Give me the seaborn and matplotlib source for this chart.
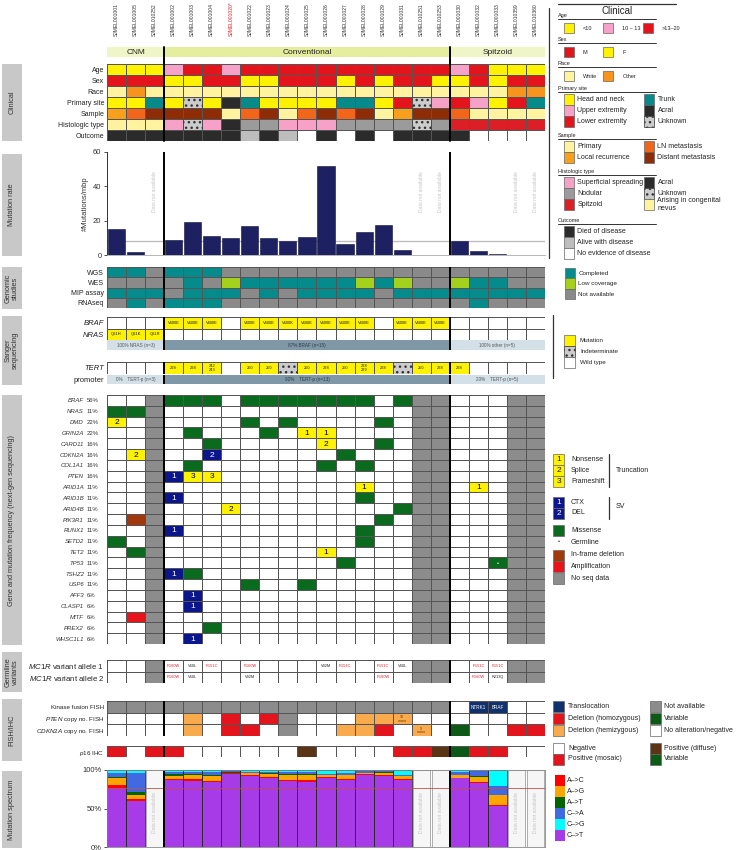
import numpy as np
import pandas as pd
import matplotlib
matplotlib.use('Agg')
import matplotlib.pyplot as plt
import matplotlib.transforms as mtrans
from matplotlib.colors import ListedColormap
from matplotlib.patches import Rectangle
import seaborn as sns

# ---------------- data ----------------
samples = ['SJMEL001001', 'SJMEL001005', 'SJMEL010252', 'SJMEL001002', 'SJMEL001003',
           'SJMEL001004', 'SJMEL001020*', 'SJMEL001022', 'SJMEL001023', 'SJMEL001024',
           'SJMEL001025', 'SJMEL001026', 'SJMEL001027', 'SJMEL001028', 'SJMEL001029',
           'SJMEL001031', 'SJMEL010251', 'SJMEL010253', 'SJMEL001030', 'SJMEL001032',
           'SJMEL001033', 'SJMEL010359', 'SJMEL010360']
groups = ['CNM'] * 3 + ['Conventional'] * 15 + ['Spitzoid'] * 5

# clinical
age = ['Y', 'Y', 'Y', 'P', 'R', 'R', 'P', 'R', 'R', 'R', 'R', 'R', 'R', 'R', 'R', 'R', 'R', 'R',
       'P', 'R', 'Y', 'Y', 'Y']
sex = ['M', 'M', 'M', 'F', 'F', 'M', 'M', 'F', 'F', 'M', 'M', 'M', 'F', 'M', 'F', 'M', 'M', 'F',
       'F', 'M', 'F', 'M', 'M']
race = ['W', 'O', 'W', 'W', 'W', 'W', 'W', 'W', 'W', 'W', 'W', 'W', 'W', 'W', 'W', 'W', 'W', 'W',
        'W', 'W', 'W', 'O', 'O']
site = ['HN', 'HN', 'TR', 'HN', 'UN', 'HN', 'AC', 'TR', 'HN', 'HN', 'HN', 'HN', 'TR', 'TR', 'HN',
        'LE', 'UN', 'UE', 'LE', 'UE', 'HN', 'LE', 'TR']
sample_type = ['LR', 'LN', 'DM', 'DM', 'DM', 'DM', 'PR', 'LN', 'DM', 'PR', 'LN', 'DM', 'LN', 'DM',
               'PR', 'LR', 'DM', 'DM', 'LN', 'PR', 'PR', 'PR', 'PR']
histology = ['CN', 'CN', 'CN', 'SS', 'UN', 'SS', 'AC', 'ND', 'ND', 'SS', 'SS', 'SS', 'ND', 'ND',
             'ND', 'ND', 'UN', 'ND', 'SP', 'SP', 'SP', 'SP', 'SP']
outcome = ['D', 'D', 'D', 'D', 'D', 'D', 'D', 'A', 'D', 'A', 'N', 'D', 'N', 'D', 'N', 'D', 'D', 'D',
           'D', 'N', 'N', 'N', 'N']
clin_labels = ['Age', 'Sex', 'Race', 'Primary site', 'Sample', 'Histologic type', 'Outcome']

# mutation rate (#mutations / mbp), nan = data not available
rate = [15, 2, np.nan, 9, 19.5, 11, 10, 17, 10, 8, 10.5, 52, 6.5, 13.5, 17.5, 3, np.nan, np.nan,
        8, 2.5, 0.8, np.nan, np.nan]
rate_median = 8.3

# genomic studies: T completed, L low coverage, G not available
wgs = list('TTGTTTGGGGGGGGGGGGGGGGG')
wes = list('GGGGTGLTTTTTTLTLGGLTTGG')
mip = list('TTTGTTTGTGTTTTGTTTTTTTT')
rnaseq = list('GTGTTTGGGGGGGGGGGGGTGGG')
genomic_labels = ['WGS', 'WES', 'MIP assay', 'RNAseq']

# sanger
braf_sanger = ['', '', '', 'V600E', 'V600E', 'V600E', '', 'V600E', 'V600E', 'V600K', 'V600E',
               'V600E', 'V600E', 'V600E', '', 'V600E', 'V600E', 'V600E', '', '', '', '', '']
nras_sanger = ['Q61H', 'Q61K', 'Q61R'] + [''] * 20
sanger_summary = ['100% NRAS (n=3)', '87% BRAF (n=15)', '100% other (n=5)']
tert = ['', '', '', '228', '228', '242\n243', '', '250', '250', '?', '250', '228', '250',
        '228\n229', '228', '?', '250', '228', '228', '', '', '', '']
tert_summary = ['0%    TERT-p (n=3)', '92%    TERT-p (n=13)', '20%    TERT-p (n=5)']

# next-gen sequencing: m missense, 1/2/3 truncation, a/b SV (CTX/DEL), d in-frame del,
# A amplification, g germline; columns without seq data are listed in noseq
noseq = [2, 16, 17, 21, 22]
genes = ['BRAF', 'NRAS', 'DMD', 'GRIN2A', 'CARD11', 'CDKN2A', 'COL1A1', 'PTEN', 'ARID1A',
         'ARID1B', 'ARID4B', 'PIK3R1', 'RUNX1', 'SETD2', 'TET2', 'TP53', 'TSHZ2', 'USP6',
         'AFF3', 'CLASP1', 'MITF', 'PREX2', 'WHSC1L1']
gene_pct = ['56%', '11%', '22%', '22%', '16%', '16%', '16%', '16%', '11%', '11%', '11%', '11%',
            '11%', '11%', '11%', '11%', '11%', '11%', '6%', '6%', '6%', '6%', '6%']
gene_alts = {
    'BRAF': {3: 'm', 4: 'm', 5: 'm', 7: 'm', 8: 'm', 9: 'm', 10: 'm', 11: 'm', 12: 'm', 13: 'm', 15: 'm'},
    'NRAS': {0: 'm', 1: 'm'},
    'DMD': {0: '2', 7: 'm', 9: 'm', 14: 'm'},
    'GRIN2A': {4: 'm', 8: 'm', 10: '1', 11: '1'},
    'CARD11': {5: 'm', 11: '2', 14: 'm'},
    'CDKN2A': {1: '2', 5: 'b', 12: 'm'},
    'COL1A1': {4: 'm', 11: 'm', 13: 'm'},
    'PTEN': {3: 'a', 4: '3', 5: '3'},
    'ARID1A': {13: '1', 19: '1'},
    'ARID1B': {3: 'a', 13: 'm'},
    'ARID4B': {6: '2', 15: 'm'},
    'PIK3R1': {1: 'd', 14: 'm'},
    'RUNX1': {3: 'a', 13: 'm'},
    'SETD2': {0: 'm', 13: 'm'},
    'TET2': {1: 'm', 11: '1'},
    'TP53': {12: 'm', 20: 'g'},
    'TSHZ2': {3: 'a', 4: 'm'},
    'USP6': {7: 'm', 10: 'm'},
    'AFF3': {4: 'a'},
    'CLASP1': {4: 'a'},
    'MITF': {1: 'A'},
    'PREX2': {5: 'm'},
    'WHSC1L1': {4: 'a'},
}

# germline MC1R
mc1r_1 = ['', '', 'NA', 'R160W', 'V60L', 'R151C', '', 'R160W', '', '', '', 'V92M', 'R151C', '',
          'R151C', 'V60L', 'NA', 'NA', '', 'R151C', 'R151C', 'NA', 'NA']
mc1r_2 = ['', '', 'NA', 'R160W', 'V60L', '', '', 'V92M', '', '', '', '', '', '', 'R160W', '',
          'NA', 'NA', '', 'R160W', 'R213Q', 'NA', 'NA']
red_variants = ['R151C', 'R160W']

# FISH / IHC: N not available, T translocation, H homozygous del, h hemizygous del, V variable
kinase_fish = ['N'] * 18 + ['', 'T', 'T', '', '']
kinase_text = [''] * 19 + ['NTRK1', 'BRAF', '', '']
pten_fish = ['', '', '', '', 'h', '', 'H', '', 'H', 'N', '', '', '', 'h', 'h', 'h', '', '',
             '', '', '', '', '']
pten_text = [''] * 15 + ['10\nmono'] + [''] * 7
cdkn2a_fish = ['', '', '', '', 'h', '', 'H', 'H', '', 'N', '', '', 'h', 'h', 'H', '', 'h', '',
               'V', '', '', 'H', 'H']
cdkn2a_text = [''] * 16 + ['9\nmono'] + [''] * 6
p16 = ['M', '-', 'M', 'M', '-', '-', '-', '-', '-', '-', 'D', '-', '-', '-', '-', 'M', 'M', 'D',
       'V', 'M', 'M', '-', '-']

# mutation spectrum (% of SNVs), stacked bottom -> top
spec_classes = ['C->T', 'A->C', 'A->G', 'A->T', 'C->A', 'C->G']
c_t = [76, 60, np.nan, 87, 86, 84, 95, 92, 90, 86, 85, 89, 87, 93, 92, 87, np.nan, np.nan, 89, 83, 53, np.nan, np.nan]
a_c = [5, 2, np.nan, 1.5, 2, 2, 0.5, 2, 1, 1, 2, 2, 1, 2, 1.5, 1, np.nan, np.nan, 1, 1, 1, np.nan, np.nan]
a_g = [8, 6, np.nan, 3.5, 5, 6, 1, 2, 4, 6, 7, 2, 5, 1, 3, 4, np.nan, np.nan, 3, 7, 13, np.nan, np.nan]
a_t = [2, 3, np.nan, 3, 2, 1, 0.5, 0.5, 1, 2, 1, 1, 1, 0.5, 0.5, 0.5, np.nan, np.nan, 1, 1, 1, np.nan, np.nan]
c_a = [5, 25, np.nan, 2, 2, 4, 1.5, 1.5, 2, 2, 2, 1, 2, 2, 1.5, 0.5, np.nan, np.nan, 3, 7, 11, np.nan, np.nan]
c_g = [4, 4, np.nan, 3, 3, 3, 1.5, 2, 2, 3, 3, 5, 4, 1.5, 1.5, 7, np.nan, np.nan, 3, 1, 21, np.nan, np.nan]
spec_ref = 0.76

# ---------------- colours ----------------
YEL, PINK, RED = '#fff200', '#f6a1c8', '#e3141b'
PALE, ORANGE, TEAL, BLACK = '#fff3a0', '#f7941d', '#078a8a', '#2b2b2b'
DOT = '#cccccc'
age_pal = {'Y': YEL, 'P': PINK, 'R': RED}
sex_pal = {'M': RED, 'F': YEL}
race_pal = {'W': PALE, 'O': ORANGE}
site_pal = {'HN': YEL, 'UE': PINK, 'LE': RED, 'TR': TEAL, 'AC': BLACK, 'UN': DOT}
samp_pal = {'PR': PALE, 'LR': '#f8a01c', 'LN': '#f2661c', 'DM': '#8e2c05'}
hist_pal = {'SS': PINK, 'ND': '#9b9b9b', 'SP': '#dc1f26', 'AC': BLACK, 'UN': DOT, 'CN': PALE}
out_pal = {'D': BLACK, 'A': '#bdbdbd', 'N': 'white'}
gen_pal = {'T': '#058b8c', 'L': '#a3d11c', 'G': '#8a8a8a'}
group_pal = {'CNM': '#eff5c6', 'Conventional': '#e4ee9d', 'Spitzoid': '#eff5c6'}
summ_pal = {'CNM': '#d3e0e7', 'Conventional': '#7e98a8', 'Spitzoid': '#d3e0e7'}
sang_pal = {'W': 'white', 'M': '#fff200', '?': DOT}
GREEN, NAVY2 = '#0a6a1d', '#0c168c'
gene_pal = {'.': 'white', 'm': GREEN, 'g': GREEN, '1': '#fff200', '2': '#fff200', '3': '#fff200',
            'a': NAVY2, 'b': NAVY2, 'd': '#a2390c', 'A': '#e8141b', 'x': '#8c8c8c'}
germ_pal = {'W': 'white', 'NA': '#8c8c8c'}
fish_pal = {'': 'white', 'N': '#8c8c8c', 'T': '#10306e', 'H': '#e3141b', 'h': '#f9aa4c', 'V': '#0d5a16'}
p16_pal = {'-': 'white', 'M': '#e3141b', 'D': '#5b3416', 'V': '#0d5a16'}
spec_pal = {'A->C': '#ff0000', 'A->G': '#ffa500', 'A->T': '#006400', 'C->A': '#4169e1',
            'C->G': '#00ffff', 'C->T': '#a83be8'}
GRID = '#555555'
NAVY = '#1e2161'

# ---------------- figure ----------------
sns.set_theme(style='white')
plt.rcParams['font.family'] = ['Liberation Sans', 'DejaVu Sans']
plt.rcParams['mathtext.fontset'] = 'custom'
plt.rcParams['mathtext.rm'] = 'Liberation Sans'
plt.rcParams['mathtext.it'] = 'Liberation Sans:italic'

W, H = 737, 850
X0, X1 = 107, 545
N = len(samples)
CW = (X1 - X0) / N
bounds = [j for j in range(1, N) if groups[j] != groups[j - 1]]
group_names = list(dict.fromkeys(groups))

fig = plt.figure(figsize=(W / 100, H / 100), dpi=100)
lg = fig.add_axes([0, 0, 1, 1], zorder=10)
lg.set_xlim(0, W)
lg.set_ylim(H, 0)
lg.axis('off')


def px_axes(y0, y1, x0=X0, x1=X1):
    return fig.add_axes([x0 / W, 1 - y1 / H, (x1 - x0) / W, (y1 - y0) / H])


def cat_heatmap(ax, rows, palette, lw=0.5, seps=True):
    pals = palette if isinstance(palette, list) else [palette] * len(rows)
    cols = [[pal[c] for c in r] for r, pal in zip(rows, pals)]
    uniq = sorted({c for r in cols for c in r})
    mat = np.array([[uniq.index(c) for c in r] for r in cols])
    sns.heatmap(mat, ax=ax, cmap=ListedColormap(uniq), vmin=-0.5, vmax=len(uniq) - 0.5,
                cbar=False, linewidths=lw, linecolor=GRID, xticklabels=False, yticklabels=False)
    for i, r in enumerate(rows):
        for j, c in enumerate(r):
            if c in ('UN', '?'):
                ax.add_patch(Rectangle((j, i), 1, 1, facecolor=DOT, edgecolor='#333333',
                                       hatch='...', lw=0.5))
    if seps:
        for b in bounds:
            ax.axvline(b, color='black', lw=1.4)


def row_labels(ax, labels, fs=5, style='normal'):
    ax.set_yticks(np.arange(len(labels)) + 0.5)
    ax.set_yticklabels(labels, fontsize=fs, rotation=0, fontstyle=style, color='#222222')
    ax.tick_params(axis='y', length=0, pad=2)


def cell_texts(ax, rows, colors='k', fs=3, weight='normal'):
    for i, r in enumerate(rows):
        for j, t in enumerate(r):
            if t and t not in ('?', 'NA'):
                c = colors(t) if callable(colors) else colors
                ax.text(j + 0.5, i + 0.52, t, ha='center', va='center', fontsize=fs,
                        color=c, fontweight=weight, linespacing=0.9)


def group_bar(ax, pal, texts, fs=3.5, tcolors=None):
    cat_heatmap(ax, [groups], pal, lw=0, seps=False)
    for k, g in enumerate(group_names):
        idx = [j for j in range(N) if groups[j] == g]
        ax.text(np.mean(idx) + 0.5, 0.55, texts[k], ha='center', va='center', fontsize=fs,
                color=(tcolors[k] if tcolors else '#222222'))


# ---- sample header
for j, s in enumerate(samples):
    lg.text(X0 + (j + 0.5) * CW, 36, s, rotation=90, ha='center', va='bottom', fontsize=3.6,
            color='#e0202a' if s.endswith('*') else '#333333')
ax = px_axes(47, 57)
group_bar(ax, group_pal, group_names, fs=6)
for b in bounds:
    lg.plot([X0 + b * CW] * 2, [47, 141], color='black', lw=1.4)

# ---- clinical
ax = px_axes(64, 141)
cat_heatmap(ax, [age, sex, race, site, sample_type, histology, outcome],
            [age_pal, sex_pal, race_pal, site_pal, samp_pal, hist_pal, out_pal])
row_labels(ax, clin_labels)

# ---- mutation rate
ax = px_axes(152, 255)
rate_df = pd.DataFrame({'sample': samples, 'rate': rate}).dropna()
sns.barplot(data=rate_df, x='sample', y='rate', order=samples, color=NAVY, saturation=1,
            width=0.9, edgecolor='#10103a', linewidth=0.4, ax=ax)
ax.axhline(rate_median, color='#bdbdbd', lw=1, zorder=0)
for b in bounds:
    ax.axvline(b - 0.5, color='black', lw=1.4)
for j, v in enumerate(rate):
    if np.isnan(v):
        ax.text(j, 37, 'Data not available', rotation=90, ha='center', va='center',
                fontsize=3.6, color='#c4c4c4')
ax.set_xlim(-0.5, N - 0.5)
ax.set_ylim(0, 60)
ax.set_yticks([0, 20, 40, 60])
ax.set_xticks([])
ax.set_xlabel('')
ax.set_ylabel('#Mutations/mbp', fontsize=5.5, color='#333333', labelpad=3)
ax.tick_params(axis='y', labelsize=5.5, length=2.5, width=0.6, pad=1.5, left=True, colors='#333333')
for side in ['top', 'right']:
    ax.spines[side].set_visible(False)
ax.spines['left'].set_color('#333333')
ax.spines['left'].set_linewidth(0.7)
ax.spines['bottom'].set_color('#aaaaaa')
ax.spines['bottom'].set_linewidth(0.6)
ax.patch.set_alpha(0)

# ---- genomic studies
ax = px_axes(267, 308)
cat_heatmap(ax, [wgs, wes, mip, rnaseq], gen_pal)
row_labels(ax, genomic_labels)

# ---- sanger
ax = px_axes(317, 340)
cat_heatmap(ax, [['M' if t else 'W' for t in braf_sanger], ['M' if t else 'W' for t in nras_sanger]],
            sang_pal)
cell_texts(ax, [braf_sanger, nras_sanger], fs=2.9)
row_labels(ax, ['BRAF', 'NRAS'], fs=5.5, style='italic')
ax = px_axes(340.5, 350)
group_bar(ax, summ_pal, sanger_summary, fs=3.3, tcolors=['#555555', '#2a3a44', '#555555'])
for b in bounds:
    ax.axvline(b, color='black', lw=1.4)

ax = px_axes(362, 374)
cat_heatmap(ax, [['?' if t == '?' else ('M' if t else 'W') for t in tert]], sang_pal)
cell_texts(ax, [tert], fs=2.9)
row_labels(ax, ['TERT'], fs=5.5, style='italic')
ax = px_axes(374.5, 384)
group_bar(ax, summ_pal, tert_summary, fs=3.3, tcolors=['#555555', '#2a3a44', '#555555'])
for b in bounds:
    ax.axvline(b, color='black', lw=1.4)
row_labels(ax, ['promoter'], fs=5.5)

# ---- next-gen sequencing
gene_rows = [[gene_alts[g].get(j, 'x' if j in noseq else '.') for j in range(N)] for g in genes]
ax = px_axes(395, 644)
cat_heatmap(ax, gene_rows, gene_pal)
sym = {'1': '1', '2': '2', '3': '3', 'a': '1', 'b': '2', 'g': '\u2022'}
for i, r in enumerate(gene_rows):
    for j, c in enumerate(r):
        if c in sym:
            ax.text(j + 0.5, i + 0.55, sym[c], ha='center', va='center',
                    fontsize=4 if c == 'g' else 6, color='black' if c in '123' else 'white')
tr = mtrans.blended_transform_factory(ax.transAxes, ax.transData)
for i, (g, p) in enumerate(zip(genes, gene_pct)):
    ax.text((84 - X0) / (X1 - X0), i + 0.55, g, transform=tr, ha='right', va='center',
            fontsize=4.3, fontstyle='italic', color='#333333')
    ax.text((87 - X0) / (X1 - X0), i + 0.55, p, transform=tr, ha='left', va='center',
            fontsize=4.3, color='#333333')

# ---- germline
ax = px_axes(660, 683)
cat_heatmap(ax, [['NA' if t == 'NA' else 'W' for t in mc1r_1], ['NA' if t == 'NA' else 'W' for t in mc1r_2]],
            germ_pal)
cell_texts(ax, [mc1r_1, mc1r_2], fs=2.8, colors=lambda t: '#e0202a' if t in red_variants else '#222222')
row_labels(ax, [r'$\it{MC1R}$ variant allele 1', r'$\it{MC1R}$ variant allele 2'], fs=5.6)

# ---- FISH / IHC
ax = px_axes(701, 736)
cat_heatmap(ax, [kinase_fish, pten_fish, cdkn2a_fish], fish_pal)
cell_texts(ax, [kinase_text], fs=3.3, colors='white')
cell_texts(ax, [[''] * N, pten_text, cdkn2a_text], fs=2.6, colors='#6b3a00')
row_labels(ax, ['Kinase fusion FISH', r'$\it{PTEN}$ copy no. FISH', r'$\it{CDKN2A}$ copy no. FISH'], fs=4.5)
ax = px_axes(746, 757)
cat_heatmap(ax, [p16], p16_pal)
row_labels(ax, [r'$\it{p16}$ IHC'], fs=4.5)

# ---- mutation spectrum
spec_df = pd.DataFrame(dict(zip(spec_classes, [c_t, a_c, a_g, a_t, c_a, c_g])), index=samples)
have = spec_df.dropna()
frac = have.div(have.sum(axis=1), axis=0)
cum = frac.cumsum(axis=1)
ax = px_axes(770, 847)
for cls in reversed(spec_classes):
    sns.barplot(x=list(cum.index), y=cum[cls].values, order=samples, color=spec_pal[cls],
                saturation=1, width=1, linewidth=0, ax=ax)
sns.barplot(x=list(cum.index), y=np.ones(len(cum)), order=samples, fill=False, width=1,
            edgecolor='#2a2a2a', linewidth=0.6, ax=ax)
na_samples = [s for s in samples if s not in have.index]
sns.barplot(x=na_samples, y=np.ones(len(na_samples)), order=samples, color='#f6f6f6',
            saturation=1, width=0.9, edgecolor='#a0a0a0', linewidth=0.6, ax=ax)
for s in na_samples:
    ax.text(samples.index(s), 0.45, 'Data not available', rotation=90, ha='center', va='center',
            fontsize=3.6, color='#c4c4c4')
ax.axhline(spec_ref, color='#c0504d', lw=0.6)
for b in bounds:
    ax.axvline(b - 0.5, color='black', lw=1.4)
ax.set_xlim(-0.5, N - 0.5)
ax.set_ylim(0, 1)
ax.set_yticks([0, 0.5, 1])
ax.set_yticklabels(['0%', '50%', '100%'])
ax.set_xticks([])
ax.set_xlabel('')
ax.tick_params(axis='y', labelsize=5.5, length=2.5, width=0.6, pad=1.5, left=True, colors='#333333')
for sp in ax.spines.values():
    sp.set_color('#888888')
    sp.set_linewidth(0.6)

# ---- left section tabs
sections = [('Clinical', 64, 141), ('Mutation rate', 154, 256), ('Genomic\nstudies', 267, 309),
            ('Sanger\nsequencing', 316, 385),
            ('Gene and mutation frequency (next-gen sequencing)', 395, 645),
            ('Germline\nvariants', 652, 692), ('FISH/IHC', 699, 761), ('Mutation spectrum', 771, 848)]
for name, y0, y1 in sections:
    lg.add_patch(Rectangle((2, y0), 20, y1 - y0, facecolor='#c8c8c8', edgecolor='none'))
    lg.text(12, (y0 + y1) / 2, name, rotation=90, ha='center', va='center', fontsize=5.3,
            color='#333333', linespacing=1.0)


# ---------------- legends ----------------
def swatch(x, y, color, label='', size=10, fs=5, hatch=None, inner=None, icolor='k', gap=3,
           edge='#666666'):
    lg.add_patch(Rectangle((x, y - size / 2), size, size, facecolor=color,
                           edgecolor='#333333' if hatch else edge, lw=0.5, hatch=hatch))
    if inner:
        lg.text(x + size / 2, y + 0.5, inner, ha='center', va='center', fontsize=6, color=icolor)
    if label:
        lg.text(x + size + gap, y, label, fontsize=fs, va='center', color='#222222')


lg.plot([558, 676], [4, 4], color='#333333', lw=0.9)
lg.plot([549, 549], [8, 258], color='#333333', lw=0.9)
lg.text(617, 11, 'Clinical', ha='center', va='center', fontsize=7, color='#222222')

row_sections = [('Age', [('<10', YEL), ('10 \u2013 13', PINK), ('>13\u201320', RED)]),
                ('Sex', [('M', RED), ('F', YEL)]),
                ('Race', [('White', PALE), ('Other', ORANGE)])]
col_sections = [('Primary site', [('Head and neck', YEL), ('Upper extremity', PINK), ('Lower extremity', RED)],
                 [('Trunk', TEAL), ('Acral', BLACK), ('Unknown', DOT)]),
                ('Sample', [('Primary', PALE), ('Local recurrence', '#f8a01c')],
                 [('LN metastasis', '#f2661c'), ('Distant metastasis', '#8e2c05')]),
                ('Histologic type', [('Superficial spreading', PINK), ('Nodular', '#9b9b9b'), ('Spitzoid', '#dc1f26')],
                 [('Acral', BLACK), ('Unknown', DOT), ('Arising in congenital\nnevus', PALE)]),
                ('Outcome', [('Died of disease', BLACK), ('Alive with disease', '#bdbdbd'),
                             ('No evidence of disease', 'white')], [])]
y = 15
for title, items in row_sections:
    lg.text(558, y, title, fontsize=4, va='center', color='#222222')
    lg.plot([558, 656], [y + 3.5, y + 3.5], color='#333333', lw=0.7)
    for k, (lab, col) in enumerate(items):
        swatch(564 + k * 39.5, y + 13, col, lab, fs=4, gap=9)
    y += 24
y = 88
for title, left, right in col_sections:
    lg.text(558, y, title, fontsize=4, va='center', color='#222222')
    lg.plot([558, 656], [y + 3.5, y + 3.5], color='#333333', lw=0.7)
    for k, (lab, col) in enumerate(left):
        swatch(564, y + 11.5 + k * 11, col, lab, size=10.5, fs=5)
    for k, (lab, col) in enumerate(right):
        swatch(644, y + 11.5 + k * 11, col, lab, size=10.5, fs=5,
               hatch='...' if lab == 'Unknown' else None)
    y += 11.5 + 11 * max(len(left), len(right)) + 2.5
    if title == 'Histologic type':
        y += 2

for k, (lab, col) in enumerate([('Completed', '#058b8c'), ('Low coverage', '#a3d11c'),
                                ('Not available', '#8a8a8a')]):
    swatch(565, 273 + k * 10.5, col, lab, size=10.5, fs=4.5)

lg.plot([553, 553], [315, 378], color='#333333', lw=0.9)
for k, (lab, col) in enumerate([('Mutation', '#fff200'), ('Indeterminate', DOT), ('Wild type', 'white')]):
    swatch(564, 340 + k * 11, col, lab, size=11, fs=4.5, gap=5,
           hatch='...' if lab == 'Indeterminate' else None)

for k, (num, lab) in enumerate([('1', 'Nonsense'), ('2', 'Splice'), ('3', 'Frameshift')]):
    swatch(553, 459 + k * 11, '#fff200', lab, size=11, fs=5, inner=num, gap=7)
lg.plot([609, 609], [454, 487], color='#333333', lw=0.9)
lg.text(616, 470, 'Truncation', fontsize=5, va='center', color='#222222')
for k, (num, lab) in enumerate([('1', 'CTX'), ('2', 'DEL')]):
    swatch(553, 502 + k * 11, NAVY2, lab, size=11, fs=5, inner=num, icolor='white', gap=7)
lg.plot([609, 609], [497, 519], color='#333333', lw=0.9)
lg.text(616, 506, 'SV', fontsize=5, va='center', color='#222222')
swatch(553, 530, GREEN, 'Missense', size=11, fs=5, gap=7)
lg.text(558.5, 542, '\u2022', ha='center', va='center', fontsize=4, color='#222222')
lg.text(571, 543, 'Germline', fontsize=5, va='center', color='#222222')
for k, (lab, col) in enumerate([('In-frame deletion', '#a2390c'), ('Amplification', '#e8141b'),
                                ('No seq data', '#8c8c8c')]):
    swatch(553, 555 + k * 11.5, col, lab, size=11, fs=5, gap=7)

for k, (lab, col) in enumerate([('Translocation', '#10306e'), ('Deletion (homozygous)', '#e3141b'),
                                ('Deletion (hemizygous)', '#f9aa4c')]):
    swatch(553, 706 + k * 12, col, lab, size=11, fs=5, gap=4)
for k, (lab, col) in enumerate([('Not available', '#8c8c8c'), ('Variable', '#0d5a16'),
                                ('No alteration/negative', 'white')]):
    swatch(650, 706 + k * 12, col, lab, size=11, fs=5, gap=3)
for k, (lab, col) in enumerate([('Negative', 'white'), ('Positive (mosaic)', '#e3141b')]):
    swatch(553, 748 + k * 11, col, lab, size=11, fs=5, gap=4)
for k, (lab, col) in enumerate([('Positive (diffuse)', '#5b3416'), ('Variable', '#0d5a16')]):
    swatch(650, 748 + k * 11, col, lab, size=11, fs=5, gap=3)

for k, cls in enumerate(['A->C', 'A->G', 'A->T', 'C->A', 'C->G', 'C->T']):
    lg.add_patch(Rectangle((555, 775 + k * 11), 10, 11, facecolor=spec_pal[cls], edgecolor='none'))
    lg.text(567, 780.5 + k * 11, cls.replace('->', '\u2013>'), fontsize=5, va='center', color='#222222')

fig.savefig('out.png', dpi=100)
